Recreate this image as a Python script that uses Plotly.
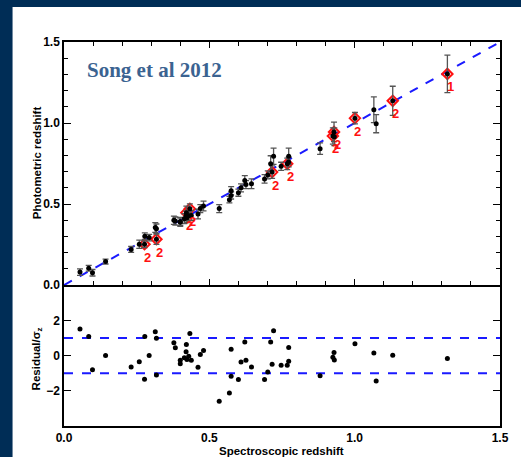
import plotly.graph_objects as go

# ---- data ----
zspec = [0.055, 0.085, 0.098, 0.143, 0.231, 0.259, 0.277, 0.278, 0.293, 0.314, 0.318, 0.318,
         0.378, 0.383, 0.400, 0.400, 0.414, 0.420, 0.421, 0.423, 0.429, 0.433, 0.438, 0.461, 0.469, 0.480,
         0.534, 0.569, 0.575, 0.575, 0.600, 0.609, 0.622, 0.626, 0.645,
         0.690, 0.701, 0.711, 0.716, 0.721, 0.747, 0.768, 0.773, 0.773,
         0.881, 0.925, 0.929, 0.930, 1.001, 1.066, 1.074, 1.131, 1.319]
zphot = [0.080, 0.104, 0.076, 0.145, 0.220, 0.252, 0.252, 0.302, 0.293, 0.355, 0.347, 0.283,
         0.400, 0.395, 0.393, 0.388, 0.410, 0.427, 0.447, 0.416, 0.428, 0.471, 0.430, 0.438, 0.472, 0.488,
         0.472, 0.527, 0.582, 0.553, 0.570, 0.600, 0.645, 0.620, 0.625,
         0.655, 0.680, 0.748, 0.697, 0.795, 0.733, 0.748, 0.795, 0.760,
         0.842, 0.920, 0.945, 0.915, 1.030, 1.082, 0.996, 1.137, 1.303]
zerr = [0.020, 0.018, 0.020, 0.015, 0.018, 0.025, 0.020, 0.020, 0.020, 0.030, 0.030, 0.032,
        0.025, 0.025, 0.025, 0.026, 0.030, 0.030, 0.040, 0.030, 0.030, 0.030, 0.030, 0.030, 0.025, 0.030,
        0.025, 0.020, 0.025, 0.022, 0.022, 0.025, 0.030, 0.025, 0.030,
        0.026, 0.025, 0.050, 0.038, 0.050, 0.025, 0.036, 0.050, 0.030,
        0.036, 0.050, 0.060, 0.055, 0.035, 0.079, 0.056, 0.090, 0.116]
residual = [1.50, 1.08, -0.81, 0.00, -0.65, -0.35, -1.35, 1.08, 0.00, 1.35, 0.98, -1.10,
            0.73, 0.44, -0.27, -0.46, -0.12, 0.21, 0.63, -0.23, -0.04, 1.25, -0.27, -0.67, 0.06, 0.29,
            -2.60, -2.12, 0.35, -1.17, -1.36, -0.36, 0.77, -0.27, -0.65,
            -1.36, -0.94, 0.77, -0.50, 1.40, -0.55, -0.55, 0.45, -0.32,
            -1.15, -0.10, 0.17, -0.25, 0.67, 0.15, -1.45, 0.02, -0.17]

flag_zspec = [0.277, 0.318, 0.421, 0.433, 0.716, 0.768, 0.925, 0.929, 1.001, 1.131, 1.319]
flag_zphot = [0.252, 0.283, 0.447, 0.471, 0.697, 0.748, 0.920, 0.945, 1.030, 1.137, 1.303]
flag_label = ["2", "2", "2", "2", "2", "2", "2", "2", "2", "2", "1"]

line_x = [0.0, 1.5]
line_y = [0.0, 1.5]
resid_band = [1.0, -1.0]

x_ticks = [0.0, 0.5, 1.0, 1.5]
y_ticks = [0.0, 0.5, 1.0, 1.5]
r_ticks = [-2, 0, 2]

FONT = "Liberation Sans, Arial, Helvetica, sans-serif"
NAVY = "#002d56"

fig = go.Figure()

# one-to-one line
fig.add_trace(go.Scatter(x=line_x, y=line_y, mode="lines",
                         line=dict(color="#1a1aff", width=2, dash="dash"),
                         xaxis="x", yaxis="y", hoverinfo="skip"))

# flagged points (red diamonds)
fig.add_trace(go.Scatter(x=flag_zspec, y=flag_zphot, mode="markers",
                         marker=dict(symbol="diamond-open", size=8, color="#ff1010",
                                     line=dict(width=2, color="#ff1010")),
                         xaxis="x", yaxis="y"))

# all points with error bars
fig.add_trace(go.Scatter(x=zspec, y=zphot, mode="markers",
                         marker=dict(size=5, color="black"),
                         error_y=dict(type="data", array=zerr, visible=True,
                                      color="#555555", thickness=1.3, width=3),
                         xaxis="x", yaxis="y"))

# residual band lines
for v in resid_band:
    fig.add_trace(go.Scatter(x=line_x, y=[v, v], mode="lines",
                             line=dict(color="#1a1aff", width=2, dash="dash"),
                             xaxis="x2", yaxis="y2", hoverinfo="skip"))

# residual points
fig.add_trace(go.Scatter(x=zspec, y=residual, mode="markers",
                         marker=dict(size=5, color="black"),
                         xaxis="x2", yaxis="y2"))

annotations = []
for xs, ys, lab in zip(flag_zspec, flag_zphot, flag_label):
    annotations.append(dict(x=xs, y=ys, xref="x", yref="y", text=lab, showarrow=False,
                            xshift=3, yshift=-13, xanchor="center", yanchor="middle",
                            font=dict(family=FONT, size=13, color="#ff1010", weight="bold")))

annotations += [
    dict(x=0.207, y=0.927, xref="paper", yref="paper", text="Song et al 2012", showarrow=False,
         xanchor="center", yanchor="middle",
         font=dict(family="Liberation Serif, Times New Roman, serif", size=21,
                   color="#3b6391", weight="bold")),
    dict(x=-0.0614, y=0.685, xref="paper", yref="paper", text="Photometric redshift",
         showarrow=False, textangle=-90, xanchor="center", yanchor="middle",
         font=dict(family=FONT, size=11.5, color="black", weight="bold")),
    dict(x=-0.0614, y=0.174, xref="paper", yref="paper", text="Residual/σ<sub>z</sub>",
         showarrow=False, textangle=-90, xanchor="center", yanchor="middle",
         font=dict(family=FONT, size=11.5, color="black", weight="bold")),
    dict(x=0.498, y=-0.066, xref="paper", yref="paper", text="Spectroscopic redshift",
         showarrow=False, xanchor="center", yanchor="middle",
         font=dict(family=FONT, size=11.5, color="black", weight="bold")),
]

axis_common = dict(showgrid=False, zeroline=False, showline=True, linecolor="black",
                   linewidth=1.5, mirror="ticks", ticks="inside", tickcolor="black",
                   tickwidth=1.3, tickfont=dict(family=FONT, size=12, color="black", weight="bold"))

split = 0.367
fig.update_layout(
    width=521, height=457,
    margin=dict(l=64, r=17, t=42, b=31),
    paper_bgcolor=NAVY, plot_bgcolor="white",
    showlegend=False,
    annotations=annotations,
    shapes=[dict(type="rect", xref="paper", yref="paper", x0=-0.118, x1=1.2, y0=-0.3, y1=1.091,
                 fillcolor="white", line=dict(width=0), layer="below")],
    xaxis=dict(axis_common, domain=[0, 1], range=[0, 1.5], anchor="y",
               tickvals=x_ticks, showticklabels=False, ticklen=6,
               minor=dict(dtick=0.1, ticks="inside", ticklen=4, tickcolor="black", tickwidth=1.2)),
    yaxis=dict(axis_common, domain=[split, 1], range=[0, 1.5], anchor="x",
               tickvals=y_ticks, tickformat=".1f", ticklen=7,
               minor=dict(dtick=0.1, ticks="inside", ticklen=4, tickcolor="black", tickwidth=1.2)),
    xaxis2=dict(axis_common, domain=[0, 1], range=[0, 1.5], anchor="y2",
                tickvals=x_ticks, tickformat=".1f", ticks="", mirror=False),
    yaxis2=dict(axis_common, domain=[0, split], range=[-4, 4], anchor="x2",
                tickvals=r_ticks, ticklen=7),
)

fig.write_html("out.html", config={"displayModeBar": False},
               post_script="document.body.style.margin='0';document.body.style.overflow='hidden';")
